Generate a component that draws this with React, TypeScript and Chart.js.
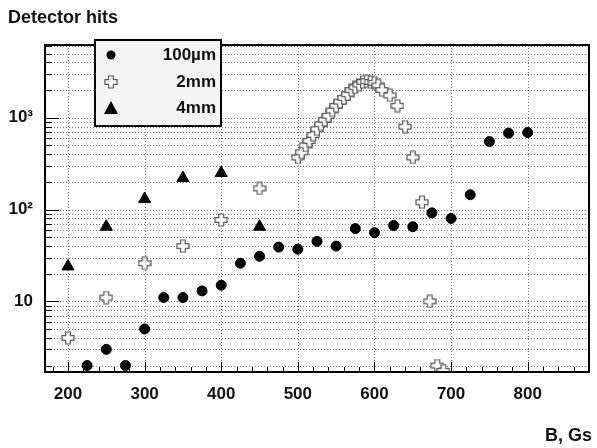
import React, { useEffect, useRef } from "react";
import { Chart, registerables } from "chart.js";
Chart.register(...registerables);

const xA = [225,250,275,300,325,350,375,400,425,450,475,500,525,550,575,600,625,650,675,700,725,750,775,800];
const yA = [2,3,2,5,11,11,13,15,26,31,39,37,45,40,62,56,67,65,92,80,145,550,680,690];
const xB = [200,250,300,350,400,450,500,505,510,515,520,525,530,535,540,545,550,555,560,565,570,575,580,585,590,595,600,605,610,620,630,640,650,662,672,682,690];
const yB = [4,11,26,40,77,170,370,420,500,560,650,750,850,950,1050,1200,1350,1500,1650,1800,2000,2150,2300,2450,2500,2450,2400,2250,2000,1750,1350,800,370,120,10,2,1.75];
const xC = [200,250,300,350,400,450];
const yC = [24,65,130,220,250,65];
const labels = ["100\u00b5m", "2mm", "4mm"];
const majorY: Record<number, string> = { 10: "10", 100: "10\u00b2", 1000: "10\u00b3" };
const xGrid = [200, 300, 400, 500, 600, 700, 800];

const FONT = "Liberation Sans";

function plusImg(size: number) {
  const c = document.createElement("canvas");
  c.width = size; c.height = size;
  const g = c.getContext("2d")!;
  const a = size * 0.33, b = size * 0.67, m = 1, e = size - 1;
  g.beginPath();
  g.moveTo(a, m); g.lineTo(b, m); g.lineTo(b, a); g.lineTo(e, a); g.lineTo(e, b); g.lineTo(b, b);
  g.lineTo(b, e); g.lineTo(a, e); g.lineTo(a, b); g.lineTo(m, b); g.lineTo(m, a); g.lineTo(a, a); g.closePath();
  g.fillStyle = "#fff"; g.fill();
  g.strokeStyle = "#555"; g.lineWidth = 1.2; g.stroke();
  return c;
}

export default function App() {
  const ref = useRef<HTMLCanvasElement>(null);
  useEffect(() => {
    const plus = plusImg(14);
    const toXY = (xs: number[], ys: number[]) => xs.map((x, i) => ({ x, y: ys[i] }));
    const yTicks: number[] = [];
    for (let d = 1; d <= 1000; d *= 10) for (let k = 1; k <= 9; k++) { const v = k * d; if (v >= 2 && v <= 6000) yTicks.push(v); }
    const xTicks: number[] = [];
    for (let v = 180; v <= 870; v += 20) xTicks.push(v);
    const grid = {
      id: "grid",
      beforeDatasetsDraw(ch: any) {
        const g = ch.ctx as CanvasRenderingContext2D;
        const a = ch.chartArea;
        const xs = ch.scales.x, ys = ch.scales.y;
        g.save();
        g.strokeStyle = "#777"; g.lineWidth = 1; g.setLineDash([1, 2]);
        xGrid.forEach((v) => { const p = Math.round(xs.getPixelForValue(v)) + 0.5; g.beginPath(); g.moveTo(p, a.top); g.lineTo(p, a.bottom); g.stroke(); });
        yTicks.forEach((v) => { const p = Math.round(ys.getPixelForValue(v)) + 0.5; g.beginPath(); g.moveTo(a.left, p); g.lineTo(a.right, p); g.stroke(); });
        g.setLineDash([]); g.strokeStyle = "#000"; g.lineWidth = 1;
        yTicks.forEach((v) => { const p = Math.round(ys.getPixelForValue(v)) + 0.5; const L = majorY[v] ? 14 : 7; g.beginPath(); g.moveTo(a.left, p); g.lineTo(a.left + L, p); g.stroke(); });
        xTicks.forEach((v) => { const p = Math.round(xs.getPixelForValue(v)) + 0.5; const L = v % 100 === 0 ? 10 : 5; g.beginPath(); g.moveTo(p, a.bottom); g.lineTo(p, a.bottom - L); g.stroke(); });
        g.restore();
      },
    };
    const deco = {
      id: "deco",
      afterDraw(ch: any) {
        const g = ch.ctx as CanvasRenderingContext2D;
        const a = ch.chartArea;
        g.save();
        g.strokeStyle = "#000"; g.lineWidth = 2;
        g.strokeRect(a.left, a.top, a.right - a.left, a.bottom - a.top);
        g.fillStyle = "#111";
        g.font = `bold 18px "${FONT}"`;
        g.textAlign = "left"; g.textBaseline = "middle";
        g.fillText("Detector hits", 8, 18);
        g.textAlign = "right";
        g.fillText("B, Gs", 592, 436);
        const lx = 95, ly = 40, lw = 126, lh = 86;
        g.fillStyle = "#f4f4f4"; g.fillRect(lx, ly, lw, lh);
        g.strokeStyle = "#000"; g.lineWidth = 2; g.strokeRect(lx, ly, lw, lh);
        g.font = `bold 17px "${FONT}"`; g.textAlign = "right";
        const rows = [55, 82, 108];
        rows.forEach((y, i) => { g.fillStyle = "#111"; g.fillText(labels[i], lx + lw - 5, y); });
        g.fillStyle = "#000";
        g.beginPath(); g.arc(111, rows[0], 4.5, 0, Math.PI * 2); g.fill();
        g.drawImage(plus, 104, rows[1] - 7);
        g.beginPath(); g.moveTo(111, rows[2] - 7); g.lineTo(118, rows[2] + 6); g.lineTo(104, rows[2] + 6); g.closePath(); g.fill();
        g.restore();
      },
    };
    const ch = new Chart(ref.current!, {
      type: "scatter",
      data: {
        datasets: [
          { data: toXY(xA, yA), pointStyle: "circle", radius: 5, backgroundColor: "#000", borderColor: "#000" },
          { data: toXY(xB, yB), pointStyle: plus as any, radius: 7 },
          { data: toXY(xC, yC), pointStyle: "triangle", radius: 7, backgroundColor: "#000", borderColor: "#000" },
        ] as any,
      },
      plugins: [grid, deco],
      options: {
        animation: false, responsive: false,
        layout: { padding: { top: 45, right: 4, left: 0, bottom: 0 } },
        plugins: { legend: { display: false }, tooltip: { enabled: false } },
        scales: {
          x: {
            type: "linear", min: 170, max: 880,
            afterFit: (s: any) => { s.height = 76; },
            afterBuildTicks: (s: any) => { s.ticks = xGrid.map((v) => ({ value: v })); },
            grid: { display: false },
            border: { display: false },
            ticks: {
              autoSkip: false, maxRotation: 0, padding: 4, color: "#111",
              font: { family: FONT, size: 17, weight: "bold" },
            },
          },
          y: {
            type: "logarithmic", min: 1.7, max: 6200,
            afterFit: (s: any) => { s.width = 45; },
            afterBuildTicks: (s: any) => { s.ticks = yTicks.map((v) => ({ value: v })); },
            grid: { display: false },
            border: { display: false },
            ticks: {
              autoSkip: false, padding: 4, color: "#111",
              font: { family: FONT, size: 17, weight: "bold" },
              callback: (v: any) => majorY[v as number] ?? "",
            },
          },
        },
      } as any,
    });
    return () => ch.destroy();
  }, []);
  return (
    <div style={{ position: "fixed", left: 0, top: 0, width: 597, height: 448, background: "#fff" }}>
      <canvas ref={ref} width={597} height={448} style={{ width: 597, height: 448 }} />
    </div>
  );
}
